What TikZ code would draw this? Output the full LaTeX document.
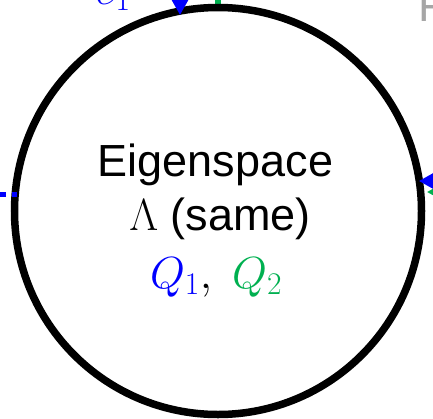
\RequirePackage{fix-cm}
\documentclass[tikz,border=0pt]{standalone}
\usepackage[no-math]{fontspec}
\setmainfont{Liberation Sans}
\usetikzlibrary{arrows.meta}
\definecolor{pblue}{RGB}{0,0,255}
\definecolor{pgreen}{RGB}{0,176,80}
\definecolor{pgray}{RGB}{166,166,166}
\begin{document}
\begin{tikzpicture}[x=1pt,y=-1pt,
  lbl/.style={font=\fontsize{45}{54}\selectfont, inner sep=0pt, anchor=base},
  ring/.style={circle, draw=black, line width=7.5pt, minimum size=407pt, inner sep=0pt},
  bluearrow/.style={pblue, line width=3pt, -{Triangle[length=16pt,width=17pt]}},
  greenarrow/.style={pgreen, line width=2pt, -{Triangle[length=7pt,width=7pt]}},
  bluedots/.style={pblue, line width=5pt, dash pattern=on 5.6pt off 6pt},
  greenstub/.style={pgreen, line width=6pt}]
\useasboundingbox (0,0) rectangle (433,418);
\clip (0,0) rectangle (433,418);
% green line reaching the circle at its top
\coordinate (g0) at (218,-20);
\coordinate (g1) at (218,8);
\draw[greenstub] (g0) -- (g1);
% the circle
\node[ring] (c) at (218,211) {};
% arrows drawn over the circle
\coordinate (b0) at (180,-30);
\coordinate (b1) at (180,15);
\draw[bluearrow] (b0) -- (b1);
\coordinate (r0) at (470,181);
\coordinate (r1) at (419,181);
\draw[bluearrow] (r0) -- (r1);
\coordinate (s0) at (470,192);
\coordinate (s1) at (427,192);
\draw[greenarrow] (s0) -- (s1);
\coordinate (d0) at (17.3,194);
\coordinate (d1) at (-30,194);
\draw[bluedots] (d0) -- (d1);
% texts
\node[lbl] (l1) at (215.5,176) {Eigenspace};
\node[lbl] (l2) at (220,230) {$\Lambda$ (same)};
\node[lbl] (l3) at (216,288) {$\textcolor{pblue}{Q_1},\;\textcolor{pgreen}{Q_2}$};
\node[lbl, anchor=base west, text=pblue] (e1) at (95,4) {$e_1$};
\node[lbl, anchor=base west, text=pgray] (f) at (418,21) {F};
\end{tikzpicture}
\end{document}
